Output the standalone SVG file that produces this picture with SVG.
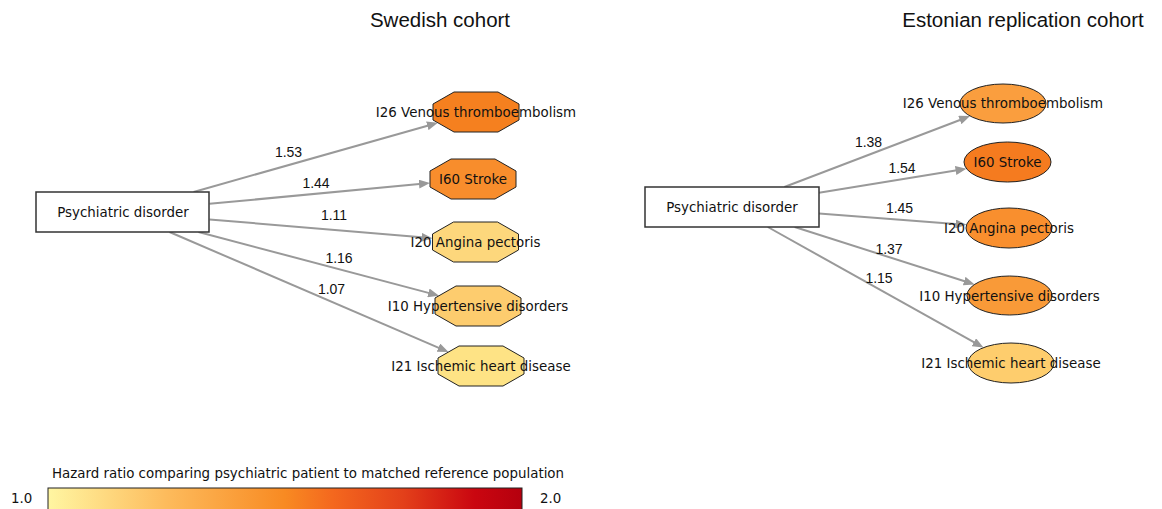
<svg xmlns="http://www.w3.org/2000/svg" width="1162" height="509" viewBox="0 0 1162 509">
<style>
.title{font-family:"Liberation Sans",Arial,sans-serif;font-size:20.5px;fill:#111;text-anchor:middle}
.lbl{font-family:"DejaVu Sans",sans-serif;font-size:13.4px;fill:#111;text-anchor:middle}
.elbl{font-family:"Liberation Sans",Arial,sans-serif;font-size:14px;fill:#111;text-anchor:middle}
.edge{stroke:#999;stroke-width:2;fill:none;marker-end:url(#arr)}
.box{fill:#fff;stroke:#333;stroke-width:1.5}
.node{stroke:#222;stroke-width:1}
.leg{font-family:"DejaVu Sans",sans-serif;font-size:13.4px;fill:#111}
</style>
<defs>
<marker id="arr" markerUnits="userSpaceOnUse" viewBox="0 0 11 9" markerWidth="11" markerHeight="9" refX="3" refY="4.5" orient="auto">
<path d="M0,0 L11,4.5 L0,9 z" fill="#999"/>
</marker>
<polygon id="oct" points="-22,-20 22,-20 43,-8 43,8 22,20 -22,20 -43,8 -43,-8"/>
<linearGradient id="grad" x1="0" y1="0" x2="1" y2="0">
<stop offset="0" stop-color="#FFF6A2"/>
<stop offset="0.25" stop-color="#FDBB5C"/>
<stop offset="0.5" stop-color="#F88A22"/>
<stop offset="0.6" stop-color="#F4681E"/>
<stop offset="0.75" stop-color="#E3401A"/>
<stop offset="0.9" stop-color="#CA0610"/>
<stop offset="1" stop-color="#B5000E"/>
</linearGradient>
</defs>
<rect width="1162" height="509" fill="#fff"/>
<text class="title" x="440" y="27">Swedish cohort</text>
<text class="title" x="1023" y="27">Estonian replication cohort</text>
<g id="connectors">
<line class="edge" x1="193.6" y1="192" x2="430.2" y2="125.0"/>
<line class="edge" x1="209.5" y1="203.8" x2="422.0" y2="183.85"/>
<line class="edge" x1="209.5" y1="219.4" x2="424.5" y2="237.6"/>
<line class="edge" x1="198.5" y1="232" x2="431.3" y2="293.65"/>
<line class="edge" x1="169.5" y1="232" x2="441.15" y2="348.84"/>
<line class="edge" x1="784.4" y1="187" x2="962.6" y2="118.95"/>
<line class="edge" x1="819" y1="192.8" x2="958.6" y2="170.0"/>
<line class="edge" x1="819" y1="213.6" x2="958.6" y2="224.2"/>
<line class="edge" x1="794.7" y1="227" x2="967.0" y2="282.0"/>
<line class="edge" x1="767.8" y1="227" x2="976.5" y2="343.7"/>
<text class="elbl" x="288.5" y="157">1.53</text>
<text class="elbl" x="316" y="188">1.44</text>
<text class="elbl" x="334" y="220">1.11</text>
<text class="elbl" x="339" y="263">1.16</text>
<text class="elbl" x="331.5" y="294">1.07</text>
<text class="elbl" x="868.5" y="147">1.38</text>
<text class="elbl" x="902" y="173">1.54</text>
<text class="elbl" x="899.5" y="213">1.45</text>
<text class="elbl" x="889" y="254">1.37</text>
<text class="elbl" x="879" y="283">1.15</text>
</g>
<g id="swe-source">
<rect class="box" x="36" y="192" width="173" height="40"/>
<text class="lbl" x="123" y="217">Psychiatric disorder</text>
</g>
<g id="swe-i26">
<use href="#oct" class="node" fill="#F5801F" transform="translate(476,112)"/>
<text class="lbl" x="476" y="117">I26 Venous thromboembolism</text>
</g>
<g id="swe-i60">
<use href="#oct" class="node" fill="#F88D2C" transform="translate(473,179)"/>
<text class="lbl" x="473" y="184">I60 Stroke</text>
</g>
<g id="swe-i20">
<use href="#oct" class="node" fill="#FDD77C" transform="translate(475.5,242)"/>
<text class="lbl" x="475.5" y="247">I20 Angina pectoris</text>
</g>
<g id="swe-i10">
<use href="#oct" class="node" fill="#FDCC6E" transform="translate(478,306)"/>
<text class="lbl" x="478" y="311">I10 Hypertensive disorders</text>
</g>
<g id="swe-i21">
<use href="#oct" class="node" fill="#FEE385" transform="translate(481,366)"/>
<text class="lbl" x="481" y="371">I21 Ischemic heart disease</text>
</g>
<g id="est-source">
<rect class="box" x="645" y="187" width="174" height="40"/>
<text class="lbl" x="732" y="212">Psychiatric disorder</text>
</g>
<g id="est-i26">
<ellipse class="node" cx="1003" cy="103.5" rx="43" ry="19.5" fill="#FA9E3E"/>
<text class="lbl" x="1003" y="108">I26 Venous thromboembolism</text>
</g>
<g id="est-i60">
<ellipse class="node" cx="1007.5" cy="162" rx="43.5" ry="20" fill="#F57B1F"/>
<text class="lbl" x="1007.5" y="167">I60 Stroke</text>
</g>
<g id="est-i20">
<ellipse class="node" cx="1009" cy="228" rx="43" ry="20" fill="#F98F2E"/>
<text class="lbl" x="1009" y="233">I20 Angina pectoris</text>
</g>
<g id="est-i10">
<ellipse class="node" cx="1009.5" cy="295.5" rx="42.5" ry="19.5" fill="#F99A38"/>
<text class="lbl" x="1009.5" y="300.5">I10 Hypertensive disorders</text>
</g>
<g id="est-i21">
<ellipse class="node" cx="1011" cy="363" rx="43" ry="20" fill="#FECD6D"/>
<text class="lbl" x="1011" y="368">I21 Ischemic heart disease</text>
</g>
<g id="legend">
<text class="leg" x="308" y="478" text-anchor="middle">Hazard ratio comparing psychiatric patient to matched reference population</text>
<rect x="48" y="488" width="474" height="24" fill="url(#grad)" stroke="#222" stroke-width="1"/>
<text class="leg" x="11" y="503">1.0</text>
<text class="leg" x="540" y="503">2.0</text>
</g>
</svg>
